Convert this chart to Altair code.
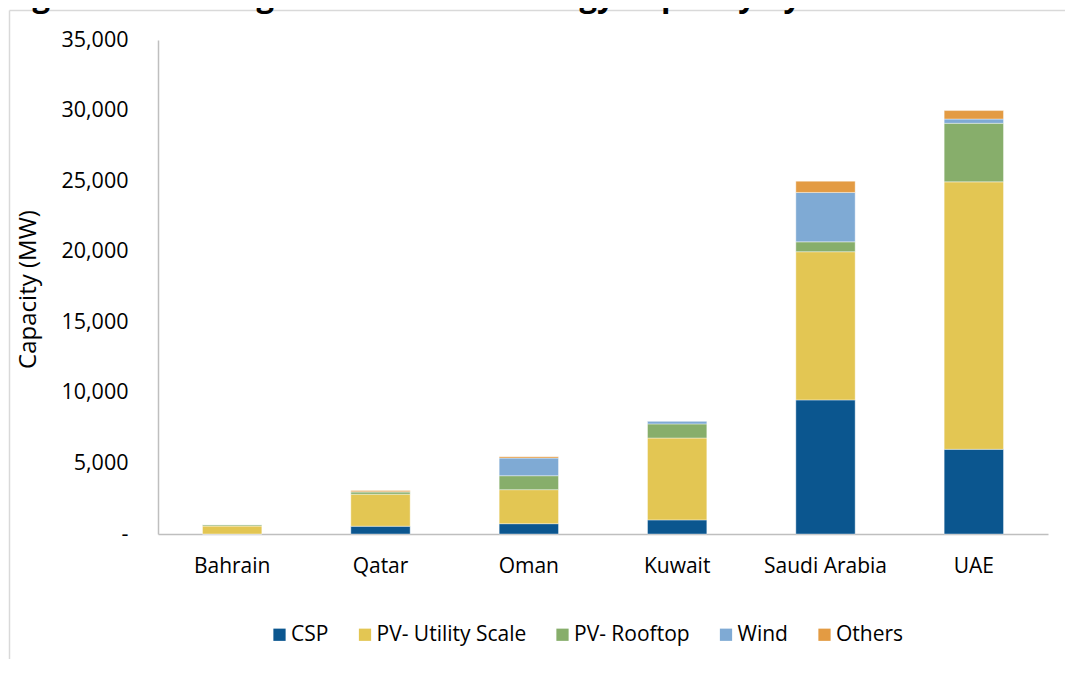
import altair as alt
import pandas as pd

countries = ["Bahrain", "Qatar", "Oman", "Kuwait", "Saudi Arabia", "UAE"]
sources = ["CSP", "PV- Utility Scale", "PV- Rooftop", "Wind", "Others"]
colors = ["#0b568f", "#e3c653", "#87ae6b", "#7faad4", "#e39b43"]

csp = [0, 550, 730, 1000, 9500, 6000]
pv_utility = [560, 2270, 2410, 5800, 10500, 18950]
pv_rooftop = [100, 170, 990, 1000, 700, 4150]
wind = [0, 0, 1250, 200, 3500, 300]
others = [0, 90, 100, 0, 800, 600]

y_ticks = [0, 5000, 10000, 15000, 20000, 25000, 30000, 35000]
title_text = "Figure 1: Gulf Region Renewable Energy Capacity by 2030"

FONT = "Open Sans"

rows = []
series = [csp, pv_utility, pv_rooftop, wind, others]
for i, c in enumerate(countries):
    for j, s in enumerate(sources):
        rows.append({"country": c, "source": s, "order": j, "value": series[j][i]})
df = pd.DataFrame(rows)

bars = alt.Chart(df).mark_bar(stroke="white", strokeWidth=0.8, strokeOpacity=0.5).encode(
    x=alt.X(
        "country:N",
        sort=countries,
        scale=alt.Scale(paddingInner=0.6, paddingOuter=0.3),
        axis=alt.Axis(
            title=None, labelAngle=0, ticks=False, domainColor="#bfbfbf", domainWidth=1.5,
            labelFontSize=21, labelPadding=21, labelColor="black", labelFont=FONT,
        ),
    ),
    y=alt.Y(
        "value:Q",
        stack="zero",
        scale=alt.Scale(domain=[0, 35000], nice=False),
        axis=alt.Axis(
            title="Capacity (MW)", values=y_ticks, grid=False, ticks=False,
            domainColor="#bfbfbf", domainWidth=1.5,
            labelExpr="datum.value == 0 ? '-\u00a0\u00a0' : format(datum.value, ',')",
            labelFontSize=21.5, labelPadding=30, labelColor="black", labelFont=FONT,
            titleFont=FONT, titleFontSize=24, titleFontWeight="normal", titleColor="black",
            titleX=-118, titleY=249,
        ),
    ),
    color=alt.Color(
        "source:N",
        scale=alt.Scale(domain=sources, range=colors),
        legend=alt.Legend(
            title=None, orient="none", direction="horizontal", legendX=111, legendY=584,
            symbolType="square", symbolSize=150, symbolStrokeWidth=0, symbolOpacity=1,
            labelFont=FONT, labelFontSize=21, labelColor="black", labelOffset=1,
            columnPadding=25.5, padding=0,
        ),
    ),
    order=alt.Order("order:Q", sort="ascending"),
)

frame_df = pd.DataFrame({"k": [1]})
frame_top = alt.Chart(frame_df).mark_rule(color="#d9d9d9", strokeWidth=1.5).encode(
    x=alt.value(-148.5), x2=alt.value(915), y=alt.value(-29.5)
)
frame_left = alt.Chart(frame_df).mark_rule(color="#d9d9d9", strokeWidth=1.5).encode(
    x=alt.value(-148.5), y=alt.value(-29.5), y2=alt.value(640)
)

title = alt.Chart(pd.DataFrame({"t": [title_text]})).mark_text(
    font=FONT, fontSize=31, fontWeight="bold", color="black", align="left", baseline="alphabetic"
).encode(
    text="t:N", x=alt.value(-152), y=alt.value(-33.5)
)

chart = alt.layer(frame_top, frame_left, title, bars).properties(
    width=890, height=494,
    padding={"left": 150, "top": 32, "right": 17, "bottom": 125},
    autosize=alt.AutoSizeParams(type="none"),
).configure_view(stroke="transparent")

chart.save("out.html", embed_options={"renderer": "svg", "actions": False})
